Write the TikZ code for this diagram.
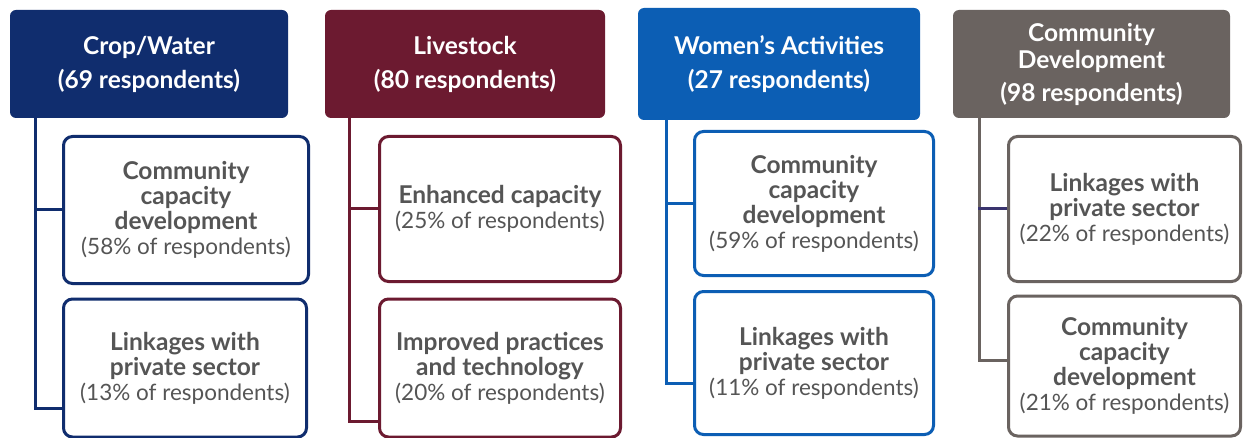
\documentclass[tikz,border=0pt]{standalone}
\usepackage{fontspec}
\setmainfont{Lato}
\definecolor{cnavy}{RGB}{16,45,110}
\definecolor{cmaroon}{RGB}{108,26,48}
\definecolor{cblue}{RGB}{12,94,180}
\definecolor{cgray}{RGB}{106,99,96}
\definecolor{ctext}{RGB}{85,85,85}
\definecolor{cbranch}{RGB}{58,52,110}
\tikzset{
  hdr/.style={rounded corners=6pt, fill=#1, draw=none, text=white, align=center,
    font=\bfseries\fontsize{24.5}{34}\selectfont, inner sep=0pt},
  child/.style={rounded corners=9pt, draw=#1, line width=3pt, fill=white, text=ctext,
    align=center, font=\fontsize{22.5}{25}\selectfont, inner sep=0pt},
  conn/.style={draw=#1, line width=3pt},
}
\newcommand{\bt}[1]{{\bfseries\fontsize{24.5}{25}\selectfont #1}}
\begin{document}
\begin{tikzpicture}[x=1pt,y=-1pt]
\useasboundingbox (0,0) rectangle (1244,438);
\clip (0,0) rectangle (1244,438);
\fill[white] (0,0) rectangle (1244,438);

% Column 1
\node[hdr=cnavy, minimum width=278pt, minimum height=108pt] (h1) at (149,64)
  {Crop/Water\\(69 respondents)};
\node[child=cnavy, minimum width=245pt, minimum height=147pt] (a1) at (186,210)
  {\bt{Community}\\\bt{capacity}\\\bt{development}\\(58\% of respondents)};
\node[child=cnavy, minimum width=243pt, minimum height=138pt] (a2) at (185,368)
  {\bt{Linkages with}\\\bt{private sector}\\(13\% of respondents)};
\coordinate (s1) at ([xshift=26pt]h1.south west);
\draw[conn=cnavy] (s1) |- (a1.west);
\draw[conn=cnavy] (s1) |- ([yshift=-40pt]a2.west);

% Column 2
\node[hdr=cmaroon, minimum width=280pt, minimum height=108pt] (h2) at (465,64)
  {Livestock\\(80 respondents)};
\node[child=cmaroon, minimum width=241pt, minimum height=145pt] (b1) at (500,209)
  {\bt{Enhanced capacity}\\(25\% of respondents)};
\node[child=cmaroon, minimum width=241pt, minimum height=138pt] (b2) at (500,368)
  {\bt{Improved practices}\\\bt{and technology}\\(20\% of respondents)};
\coordinate (s2) at ([xshift=25pt]h2.south west);
\draw[conn=cmaroon] (s2) |- (b1.west);
\draw[conn=cmaroon] (s2) |- ([yshift=-53pt]b2.west);

% Column 3
\node[hdr=cblue, minimum width=282pt, minimum height=112pt] (h3) at (779,64)
  {Women\char"0027 s Activities\\(27 respondents)};
\node[child=cblue, minimum width=239pt, minimum height=144pt] (c1) at (814,203.5)
  {\bt{Community}\\\bt{capacity}\\\bt{development}\\(59\% of respondents)};
\node[child=cblue, minimum width=239pt, minimum height=143pt] (c2) at (814,363)
  {\bt{Linkages with}\\\bt{private sector}\\(11\% of respondents)};
\coordinate (s3) at ([xshift=29pt]h3.south west);
\draw[conn=cblue] (s3) |- (c1.west);
\draw[conn=cblue] (s3) |- ([yshift=-20pt]c2.west);

% Column 4
\node[hdr=cgray, minimum width=277pt, minimum height=108pt,
  font=\bfseries\fontsize{24.5}{27}\selectfont] (h4) at (1091.5,64)
  {Community\\Development\\[6pt](98 respondents)};
\node[child=cgray, minimum width=232pt, minimum height=145pt] (d1) at (1124.5,209)
  {\bt{Linkages with}\\\bt{private sector}\\(22\% of respondents)};
\node[child=cgray, minimum width=232pt, minimum height=140pt] (d2) at (1124.5,366)
  {\bt{Community}\\\bt{capacity}\\\bt{development}\\(21\% of respondents)};
\coordinate (s4) at ([xshift=27pt]h4.south west);
\draw[conn=cgray] (s4) |- ([yshift=6pt]d2.west);
\draw[conn=cbranch] ([xshift=-1.5pt]s4 |- d1.west) -- (d1.west);
\end{tikzpicture}
\end{document}
